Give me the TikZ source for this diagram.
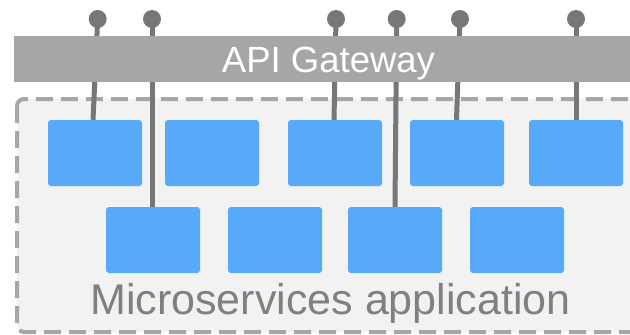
\documentclass[tikz,border=0pt]{standalone}
\usepackage{fontspec}
\setmainfont{Liberation Sans}
\definecolor{svcblue}{HTML}{57A9F9}
\definecolor{wire}{HTML}{777777}
\definecolor{gwgray}{HTML}{A6A6A6}
\definecolor{appfill}{HTML}{F2F2F2}
\definecolor{apptext}{HTML}{808080}
\begin{document}
\begin{tikzpicture}[x=1pt,y=-1pt,
  svc/.style={fill=svcblue, draw=none, rounded corners=3pt, minimum width=94pt, minimum height=66pt, inner sep=0pt},
  port/.style={circle, fill=wire, draw=none, minimum size=18pt, inner sep=0pt},
  wireline/.style={draw=wire, line width=5pt},
]
\useasboundingbox (0,0) rectangle (630,335);
\clip (0,0) rectangle (630,335);

% application container
\draw[draw=gwgray, fill=appfill, line width=4pt, dash pattern=on 17pt off 8pt, rounded corners=7pt]
  (17,99) rectangle (660,332);
\node[text=apptext, font=\fontsize{43}{47}\selectfont, anchor=base] (app) at (330.5,314) {Microservices application};

% services, upper row
\node[svc] (t1) at (95,153) {};
\node[svc] (t2) at (212,153) {};
\node[svc] (t3) at (335,153) {};
\node[svc] (t4) at (457,153) {};
\node[svc] (t5) at (576,153) {};
% services, lower row
\node[svc] (b1) at (153,240) {};
\node[svc] (b2) at (275,240) {};
\node[svc] (b3) at (395,240) {};
\node[svc] (b4) at (517,240) {};

% external ports
\node[port] (p1) at (97.7,19) {};
\node[port] (p2) at (152,19) {};
\node[port] (p3) at (336,19) {};
\node[port] (p4) at (396.7,19) {};
\node[port] (p5) at (460,19) {};
\node[port] (p6) at (576,19) {};

% routes through the gateway
\path[wireline] (p1.center) -- ([xshift=-2pt]t1.north);
\path[wireline] (p2.center) -- ([xshift=-1pt]b1.north);
\path[wireline] (p3.center) -- ([xshift=-1pt]t3.north);
\path[wireline] (p4.center) -- (b3.north);
\path[wireline] (p5.center) -- ([xshift=-0.5pt]t4.north);
\path[wireline] (p6.center) -- (t5.north);

% gateway bar
\fill[gwgray] (14,36) rectangle (640,82);
\node[text=white, font=\fontsize{36.5}{40}\selectfont, anchor=base] (gw) at (328.5,72) {API Gateway};
\end{tikzpicture}
\end{document}
